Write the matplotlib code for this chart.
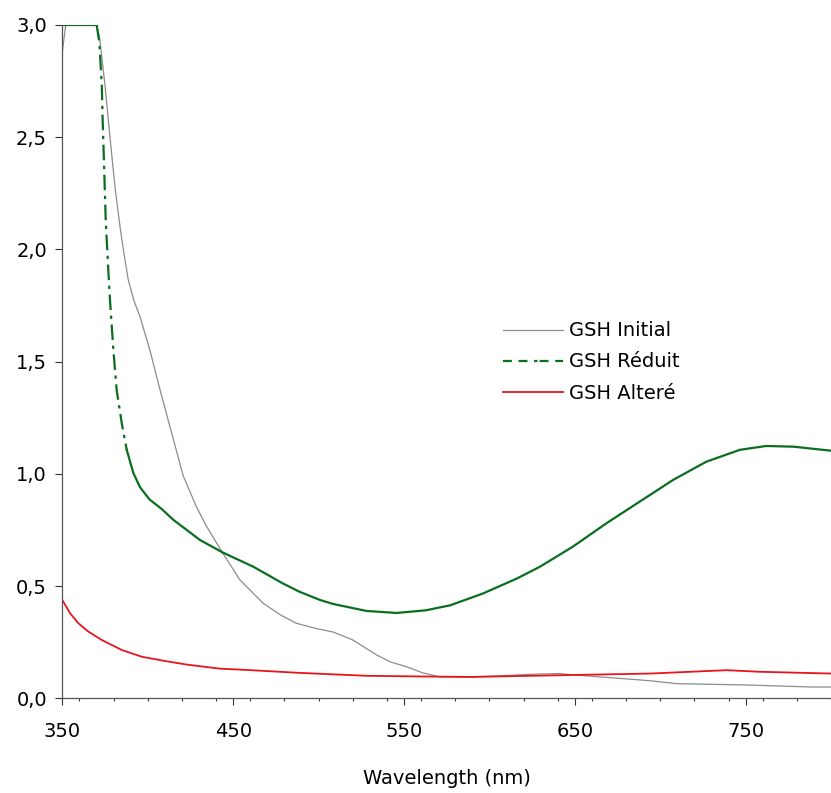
import matplotlib.pyplot as plt
from matplotlib.lines import Line2D
from matplotlib.ticker import MultipleLocator

# Absorbance spectra
wl_initial = [350, 352, 370, 371.7, 375, 377.9, 380.8, 383.8, 385.7, 388.6, 392, 395.5, 401.3,
              407.2, 413, 420.8, 428.7, 434.5, 444, 454, 467.6, 478, 487, 499, 508.6, 520, 534,
              542, 551.6, 561, 571, 590, 606, 625.5, 641, 651, 664.8, 684, 694, 709.6, 750.6,
              789, 800]
abs_initial = [2.88, 3.0, 3.0, 2.95, 2.73, 2.50, 2.28, 2.10, 2.0, 1.864, 1.77, 1.70, 1.55,
               1.374, 1.21, 0.99, 0.85, 0.765, 0.646, 0.527, 0.423, 0.37, 0.334, 0.31, 0.295, 0.26, 0.193,
               0.162, 0.14, 0.113, 0.095, 0.095, 0.10, 0.107, 0.11, 0.103, 0.095, 0.084, 0.078, 0.065, 0.059,
               0.05, 0.05]

wl_reduit = [350, 370.1, 371.7, 373.1, 373.6, 374.4, 375.4, 376.9, 377.9, 379.9, 381.8, 384.8,
             387.7, 391.6, 395.5, 401, 408.2, 415, 430.6, 444, 461.8, 479, 489, 500.8, 508.6, 528,
             545.7, 563, 577, 596, 616, 629.6, 649, 668.6, 688, 707.6, 727, 746.7, 762, 778, 800]
abs_reduit = [3.0, 3.0, 2.92, 2.73, 2.58, 2.385, 2.13, 1.91, 1.775, 1.55, 1.374, 1.225,
              1.107, 1.003, 0.94, 0.886, 0.843, 0.795, 0.705, 0.649, 0.586, 0.512, 0.474, 0.438, 0.42, 0.389,
              0.38, 0.392, 0.414, 0.466, 0.533, 0.586, 0.676, 0.78, 0.876, 0.973, 1.054, 1.107, 1.124, 1.121, 1.103]

wl_altere = [350, 354.5, 359.4, 365.2, 373, 384.8, 396.5, 410, 422.8, 442, 458, 489, 528, 560,
             590, 645, 694, 739, 758, 800]
abs_altere = [0.438, 0.379, 0.334, 0.297, 0.26, 0.215, 0.185, 0.166, 0.150, 0.132, 0.126, 0.113, 0.10, 0.097,
              0.095, 0.103, 0.11, 0.125, 0.118, 0.11]

series_labels = ['GSH Initial', 'GSH Réduit', 'GSH Alteré']
x_ticks = [350, 450, 550, 650, 750]
y_ticks = [0.0, 0.5, 1.0, 1.5, 2.0, 2.5, 3.0]
y_tick_labels = ['0,0', '0,5', '1,0', '1,5', '2,0', '2,5', '3,0']

GREY = '#8c8c8c'
GREEN = '#0a6e1e'
RED = '#e8141b'

fig = plt.figure(figsize=(8.31, 7.93), dpi=100)
ax = fig.add_axes([0.075, 0.1195, 0.925, 0.849])

ax.plot(wl_initial, abs_initial, color=GREY, lw=0.9)

# the steep part of the reduced curve shows its dash pattern, the rest looks solid
start = wl_reduit.index(370.1)
stop = wl_reduit.index(387.7)
ax.plot(wl_reduit[:start + 1], abs_reduit[:start + 1], color=GREEN, lw=1.6)
ax.plot(wl_reduit[start:stop + 1], abs_reduit[start:stop + 1], color=GREEN, lw=1.6,
        dashes=(7, 2.5, 1.5, 2.5))
ax.plot(wl_reduit[stop:], abs_reduit[stop:], color=GREEN, lw=1.6)

ax.plot(wl_altere, abs_altere, color=RED, lw=1.3)

ax.set_xlim(350, 800)
ax.set_ylim(0, 3.0)
ax.set_xticks(x_ticks)
ax.xaxis.set_minor_locator(MultipleLocator(20))
ax.set_yticks(y_ticks)
ax.set_yticklabels(y_tick_labels)

for side in ['top', 'right']:
    ax.spines[side].set_visible(False)
for side in ['left', 'bottom']:
    ax.spines[side].set_color('#555555')
    ax.spines[side].set_linewidth(0.9)

ax.tick_params(axis='both', which='major', direction='out', length=5, width=0.8,
               color='#333333', labelsize=14, pad=6)
ax.tick_params(axis='x', which='minor', direction='out', length=2.5, width=0.8, color='#333333')
ax.tick_params(axis='x', which='major', pad=12)

ax.set_xlabel('Wavelength (nm)', fontsize=14, labelpad=20)

handles = [
    Line2D([], [], color=GREY, lw=0.9),
    Line2D([], [], color=GREEN, lw=1.6, dashes=(4, 3, 4, 3, 1.5, 1)),
    Line2D([], [], color=RED, lw=1.3),
]
ax.legend(handles, series_labels, loc='center left', bbox_to_anchor=(0.573, 0.4995),
          frameon=False, fontsize=14, handlelength=3.1, handletextpad=0.3,
          labelspacing=0.62, borderpad=0, borderaxespad=0)

fig.savefig('out.png', dpi=100)
